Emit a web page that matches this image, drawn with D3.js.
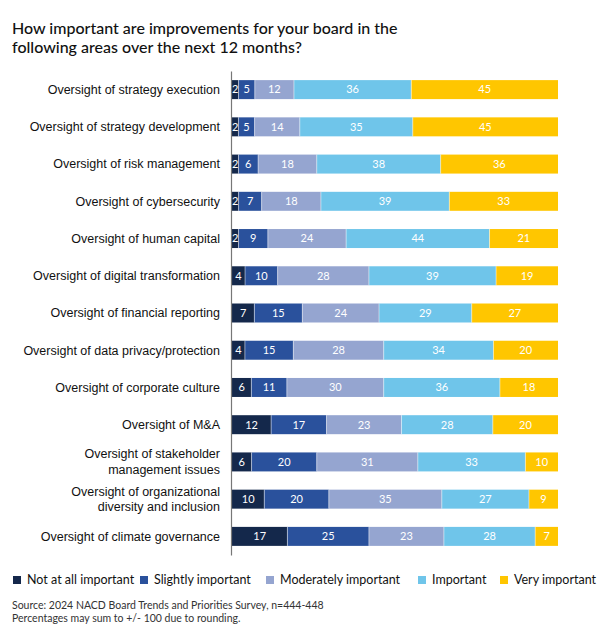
<!DOCTYPE html>
<html><head><meta charset="utf-8">
<script src="https://cdn.jsdelivr.net/npm/d3@7"></script>
<style>body{margin:0;background:#fff;}svg{display:block;font-family:Lato, "Open Sans", sans-serif;}</style>
</head><body>
<svg id="chart" width="600" height="626"></svg>
<script>
const categories = [
  "Oversight of strategy execution",
  "Oversight of strategy development",
  "Oversight of risk management",
  "Oversight of cybersecurity",
  "Oversight of human capital",
  "Oversight of digital transformation",
  "Oversight of financial reporting",
  "Oversight of data privacy/protection",
  "Oversight of corporate culture",
  "Oversight of M&A",
  "Oversight of stakeholder\nmanagement issues",
  "Oversight of organizational\ndiversity and inclusion",
  "Oversight of climate governance"
];
const seriesNames = ["Not at all important","Slightly important","Moderately important","Important","Very important"];
const notAtAll   = [2,2,2,2,2,4,7,4,6,12,6,10,17];
const slightly   = [5,5,6,7,9,10,15,15,11,17,20,20,25];
const moderately = [12,14,18,18,24,28,24,28,30,23,31,35,23];
const important  = [36,35,38,39,44,39,29,34,36,28,33,27,28];
const very       = [45,45,36,33,21,19,27,20,18,20,10,9,7];
const colors = ["#14284b","#2a519c","#95a5d0","#6fc5ea","#ffc600"];
const titleLines = ["How important are improvements for your board in the","following areas over the next 12 months?"];
const sourceLines = ["Source: 2024 NACD Board Trends and Priorities Survey, n=444-448","Percentages may sum to +/- 100 due to rounding."];

const seriesVals = [notAtAll, slightly, moderately, important, very];
const rows = categories.map((c,i)=>{
  const o = {cat:c};
  seriesNames.forEach((s,j)=>o[s]=seriesVals[j][i]);
  return o;
});
const svg = d3.select("#chart");
const x0 = 232, x1 = 558;
const y = d3.scaleBand().domain(categories).range([71, 555]).paddingInner(0.49).paddingOuter(0.245);

// normalize each row to 100%
const norm = rows.map(r=>{
  const tot = d3.sum(seriesNames, s=>r[s]);
  const o = {cat:r.cat};
  seriesNames.forEach(s=>o[s]=r[s]/tot*100);
  return o;
});
const stack = d3.stack().keys(seriesNames)(norm);
const x = d3.scaleLinear().domain([0,100]).range([x0,x1]);

const title = svg.append("text").attr("x",12).attr("y",34).attr("font-size",16).attr("fill","#111").attr("font-weight",500);
titleLines.forEach((t,i)=>title.append("tspan").attr("x",12).attr("dy",i?19:0).text(t));

const g = svg.append("g");
stack.forEach((layer,j)=>{
  g.selectAll(null).data(layer).join("rect")
    .attr("x",d=>x(d[0])).attr("width",d=>x(d[1])-x(d[0]))
    .attr("y",d=>y(d.data.cat)).attr("height",y.bandwidth())
    .attr("fill",colors[j]);
  g.selectAll(null).data(layer).join("text")
    .attr("x",d=>(x(d[0])+x(d[1]))/2)
    .attr("y",(d)=>y(d.data.cat)+y.bandwidth()/2)
    .attr("dy","0.35em").attr("text-anchor","middle")
    .attr("font-size",11).attr("fill","#fff")
    .text((d,i)=>seriesVals[j][i]);
});
// separators
stack.forEach((layer,j)=>{ if(j===0) return;
  g.selectAll(null).data(layer).join("line")
   .attr("x1",d=>x(d[0])).attr("x2",d=>x(d[0]))
   .attr("y1",d=>y(d.data.cat)).attr("y2",d=>y(d.data.cat)+y.bandwidth())
   .attr("stroke","#fff").attr("stroke-width",0.8).attr("stroke-opacity",0.6);
});

// y axis
const yAxis = d3.axisLeft(y).tickSize(0).tickPadding(11).tickFormat("");
const ag = svg.append("g").attr("transform",`translate(${x0-1},0)`).call(yAxis);
ag.select(".domain").attr("stroke","#777").attr("stroke-width",1.2);
ag.selectAll(".tick").each(function(d){
  const lines = d.split("\n");
  const t = d3.select(this).append("text").attr("x",-11).attr("text-anchor","end")
     .attr("fill","#111").attr("font-size",12.5);
  lines.forEach((l,i)=>t.append("tspan").attr("x",-11)
     .attr("dy", i===0 ? (lines.length>1? "-0.28em":"0.35em") : "1.25em").text(l));
});

// legend
const legX = [13,140,266,418,500];
const lg = svg.append("g");
seriesNames.forEach((s,j)=>{
  lg.append("rect").attr("x",legX[j]).attr("y",576).attr("width",8).attr("height",8).attr("fill",colors[j]);
  lg.append("text").attr("x",legX[j]+14).attr("y",580).attr("dy","0.35em").attr("font-size",12.5).attr("fill","#111").text(s);
});
const src = svg.append("text").attr("font-size",10.5).attr("fill","#333");
sourceLines.forEach((t,i)=>src.append("tspan").attr("x",12).attr("y",609+i*13).text(t));
</script>
</body></html>
